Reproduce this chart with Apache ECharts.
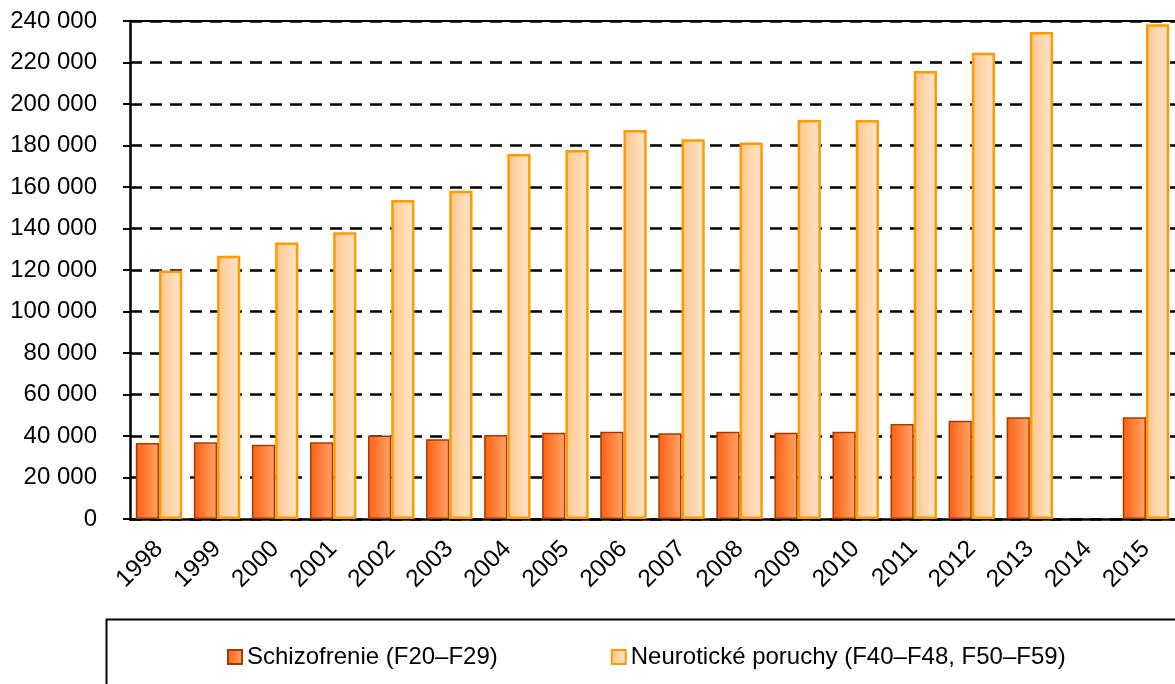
<!DOCTYPE html>
<html>
<head>
<meta charset="utf-8">
<script src="https://cdn.jsdelivr.net/npm/echarts@6/dist/echarts.min.js"></script>
<style>
  html, body { margin: 0; padding: 0; background: #fff; }
  #chart { width: 1175px; height: 684px; }
</style>
</head>
<body>
<div id="chart"></div>
<script>
var years = ['1998','1999','2000','2001','2002','2003','2004','2005','2006','2007','2008','2009','2010','2011','2012','2013','2014','2015'];
var schizofrenie = [36600, 37000, 35800, 37000, 40300, 38400, 40500, 41600, 42100, 41300, 42100, 41600, 42100, 45800, 47400, 49000, null, 49000];
var neuroticke = [119700, 126900, 133300, 138200, 153700, 158200, 175900, 177800, 187500, 183000, 181400, 192300, 192300, 215900, 224700, 234700, null, 238400];
var seriesNames = ['Schizofrenie (F20\u2013F29)', 'Neurotick\u00e9 poruchy (F40\u2013F48, F50\u2013F59)'];

var font = '"Liberation Sans", Arial, sans-serif';

function thousands(v) {
  return String(v).replace(/\B(?=(\d{3})+(?!\d))/g, ' ');
}

var chart = echarts.init(document.getElementById('chart'));
chart.setOption({
  backgroundColor: '#fff',
  animation: false,
  textStyle: { fontFamily: font },
  grid: { left: 130, top: 21, width: 1047, height: 498 },
  legend: {
    left: 222, top: 640,
    itemWidth: 14, itemHeight: 14, itemGap: 113,
    icon: 'rect',
    textStyle: { fontSize: 24, color: '#000', fontFamily: font },
    data: seriesNames
  },
  graphic: [{
    type: 'rect', left: 104, top: 617,
    shape: { width: 1100, height: 100 },
    style: { fill: 'none', stroke: '#000', lineWidth: 2 }
  }],
  xAxis: [{
    type: 'category', data: years, boundaryGap: true,
    axisLine: { lineStyle: { color: '#000', width: 2.5 } },
    axisTick: { length: 7, lineStyle: { color: '#000', width: 2 } },
    axisLabel: { rotate: 45, margin: 26, fontSize: 24.5, color: '#000', fontFamily: font, interval: 0 }
  }, {
    type: 'category', data: years, position: 'top',
    axisLine: { lineStyle: { color: '#000', width: 2 } },
    axisTick: { show: false }, axisLabel: { show: false }
  }],
  yAxis: {
    type: 'value', min: 0, max: 240000, interval: 20000,
    axisLine: { show: true, lineStyle: { color: '#000', width: 2.5 } },
    axisTick: { show: true, length: 7, lineStyle: { color: '#000', width: 2 } },
    axisLabel: { margin: 33, fontSize: 24, color: '#000', fontFamily: font, formatter: thousands },
    splitLine: { lineStyle: { color: '#000', width: 2.5, type: [12, 8] } }
  },
  series: [{
    name: seriesNames[0], type: 'bar', data: schizofrenie,
    barGap: '0%', barCategoryGap: '20%',
    itemStyle: {
      color: new echarts.graphic.LinearGradient(0, 0, 1, 0, [
        { offset: 0, color: '#FF6010' }, { offset: 1, color: '#FFA468' }
      ]),
      borderColor: '#A23C05', borderWidth: 1.5
    }
  }, {
    name: seriesNames[1], type: 'bar', data: neuroticke,
    itemStyle: {
      color: new echarts.graphic.LinearGradient(0, 0, 1, 0, [
        { offset: 0, color: '#FFC68C' }, { offset: 1, color: '#FFE6CC' }
      ]),
      borderColor: '#FF9A00', borderWidth: 2.5
    }
  }]
});
</script>
</body>
</html>
